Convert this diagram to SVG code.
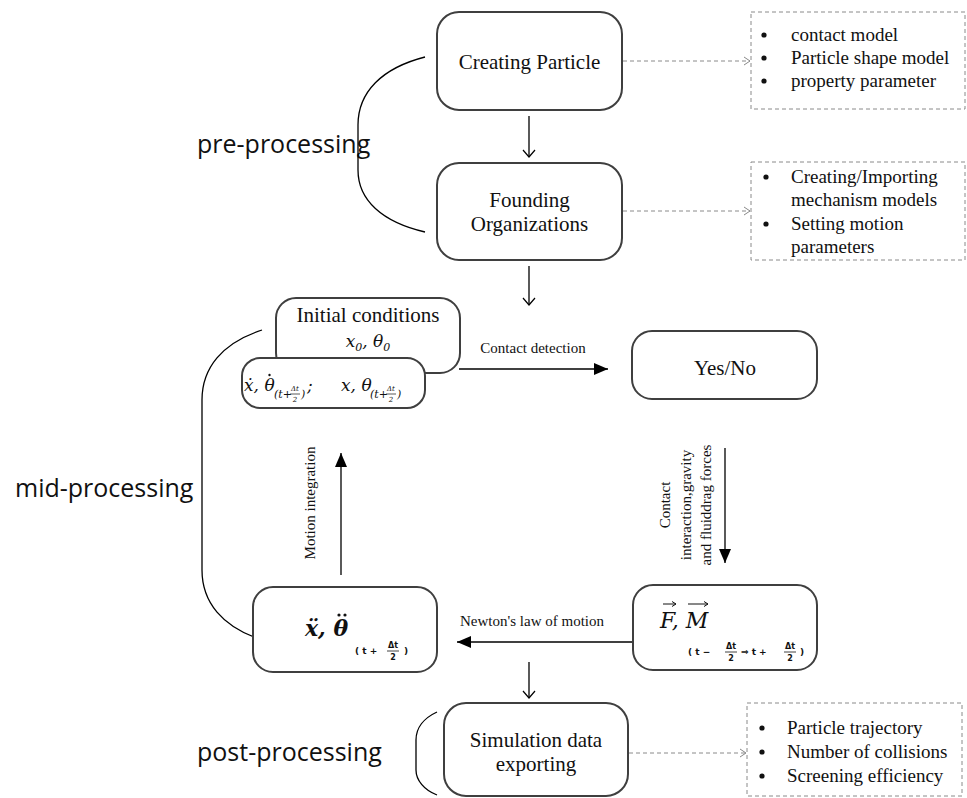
<svg xmlns="http://www.w3.org/2000/svg" width="967" height="798" viewBox="0 0 967 798">
<defs>
<marker id="openV" markerWidth="16" markerHeight="16" refX="8" refY="8" orient="auto" markerUnits="userSpaceOnUse"><path d="M1,2 L8,8 L1,14" fill="none" stroke="#000" stroke-width="1.2"/></marker>
<marker id="dashV" markerWidth="12" markerHeight="12" refX="7" refY="6" orient="auto" markerUnits="userSpaceOnUse"><path d="M1,2 L7,6 L1,10" fill="none" stroke="#888" stroke-width="1"/></marker>
<marker id="tri" markerWidth="16" markerHeight="14" refX="14" refY="7" orient="auto" markerUnits="userSpaceOnUse"><path d="M0,1 L14,7 L0,13 Z" fill="#000"/></marker>
<marker id="vec" markerWidth="8" markerHeight="8" refX="5" refY="4" orient="auto" markerUnits="userSpaceOnUse"><path d="M1,1.5 L5,4 L1,6.5" fill="none" stroke="#111" stroke-width="1"/></marker>
</defs>
<style>
.box{fill:#fff;stroke:#3f3f3f;stroke-width:2}
.dbox{fill:#fff;stroke:#8a8a8a;stroke-width:1;stroke-dasharray:4 3}
.t{font-family:"Liberation Serif","Times New Roman",serif;font-size:21px;fill:#111}
.b{font-family:"Liberation Serif","Times New Roman",serif;font-size:19px;fill:#111}
.s{font-family:"Liberation Serif","Times New Roman",serif;font-size:15px;fill:#111}
.m{font-family:"DejaVu Serif","Liberation Serif",serif;font-style:italic;fill:#111}
.ms{font-family:"DejaVu Sans","Liberation Sans",sans-serif;font-weight:bold;fill:#111}
.lab{font-family:"Open Sans","Noto Sans",sans-serif;font-size:25px;fill:#111}
.ln{stroke:#000;stroke-width:1.3;fill:none}
.dl{stroke:#8a8a8a;stroke-width:1;stroke-dasharray:4 3;fill:none}
.br{stroke:#000;stroke-width:1.3;fill:none}
</style>

<g id="labels">
<text class="lab" x="197" y="153">pre-processing</text>
<text class="lab" x="15" y="497">mid-processing</text>
<text class="lab" x="197" y="761">post-processing</text>
<path class="br" d="M425,57 C382,68 358,92 358,125 L358,170 C358,200 382,222 425,232"/>
<path class="br" d="M262,330 C222,343 202,368 202,400 L202,570 C202,602 222,627 262,640"/>
<path class="br" d="M437,712 C424,718 416,728 416,740 L416,770 C416,780 424,790 437,795"/>
</g>

<g id="connectors">
<line class="ln" x1="529" y1="116" x2="529" y2="157" marker-end="url(#openV)"/>
<line class="ln" x1="529" y1="266" x2="529" y2="305" marker-end="url(#openV)"/>
<line class="ln" x1="529" y1="662" x2="529" y2="698" marker-end="url(#openV)"/>
<line class="dl" x1="623" y1="61" x2="750" y2="61" marker-end="url(#dashV)"/>
<line class="dl" x1="623" y1="211" x2="750" y2="211" marker-end="url(#dashV)"/>
<line class="dl" x1="629" y1="753" x2="746" y2="753" marker-end="url(#dashV)"/>
<line class="ln" x1="459" y1="369" x2="608" y2="369" marker-end="url(#tri)"/>
<text class="s" x="533" y="353" text-anchor="middle">Contact detection</text>
<line class="ln" x1="725" y1="448" x2="725" y2="563" marker-end="url(#tri)"/>
<text class="s" transform="translate(670,505) rotate(-90)" text-anchor="middle">Contact</text>
<text class="s" transform="translate(691,505) rotate(-90)" text-anchor="middle">interaction,gravity</text>
<text class="s" transform="translate(711,505) rotate(-90)" text-anchor="middle">and fluiddrag forces</text>
<line class="ln" x1="632" y1="642" x2="457" y2="642" marker-end="url(#tri)"/>
<text class="s" x="532" y="626" text-anchor="middle">Newton's law of motion</text>
<line class="ln" x1="341" y1="575" x2="341" y2="453" marker-end="url(#tri)"/>
<text class="s" transform="translate(315,503) rotate(-90)" text-anchor="middle">Motion integration</text>
</g>

<g id="creating-particle">
<rect class="box" x="437" y="12" width="185" height="98" rx="22"/>
<text class="t" x="529.5" y="69" text-anchor="middle">Creating Particle</text>
</g>
<g id="founding-organizations">
<rect class="box" x="437" y="163" width="185" height="97" rx="22"/>
<text class="t" x="529.5" y="207" text-anchor="middle">Founding</text>
<text class="t" x="529.5" y="231" text-anchor="middle">Organizations</text>
</g>

<g id="notes-particle">
<rect class="dbox" x="751" y="12" width="214" height="97"/>
<circle cx="764" cy="35" r="2.6" fill="#111"/>
<circle cx="764" cy="58" r="2.6" fill="#111"/>
<circle cx="764" cy="81" r="2.6" fill="#111"/>
<text class="b" x="791" y="41">contact model</text>
<text class="b" x="791" y="64">Particle shape model</text>
<text class="b" x="791" y="87">property parameter</text>
</g>
<g id="notes-organizations">
<rect class="dbox" x="751" y="162" width="214" height="98"/>
<circle cx="766" cy="177" r="2.6" fill="#111"/>
<circle cx="766" cy="224" r="2.6" fill="#111"/>
<text class="b" x="791" y="183">Creating/Importing</text>
<text class="b" x="791" y="206">mechanism models</text>
<text class="b" x="791" y="230">Setting motion</text>
<text class="b" x="791" y="253">parameters</text>
</g>

<g id="initial-conditions">
<rect class="box" x="276" y="298" width="184" height="75" rx="20"/>
<text class="t" x="368" y="322" text-anchor="middle" font-size="20">Initial conditions</text>
<text class="m" x="368" y="347" text-anchor="middle" font-size="17">x<tspan font-size="11" dy="4">0</tspan><tspan dy="-4">, θ</tspan><tspan font-size="11" dy="4">0</tspan></text>
</g>
<g id="velocity-position">
<rect class="box" x="242" y="358" width="183" height="50" rx="18"/>
<text class="m" x="244" y="391" font-size="17">ẋ, θ</text>
<circle cx="269.5" cy="375" r="1.2" fill="#111"/>
<text class="m" x="274" y="398" font-size="11">(t+</text>
<text class="m" x="295" y="391" font-size="7" text-anchor="middle">Δt</text>
<line x1="290" y1="394" x2="300" y2="394" stroke="#111" stroke-width="0.7"/>
<text class="m" x="295" y="402" font-size="7" text-anchor="middle">2</text>
<text class="m" x="301" y="398" font-size="11">)</text>
<text class="m" x="307" y="391" font-size="17">;</text>
<text class="m" x="341" y="391" font-size="17">x, θ</text>
<text class="m" x="370" y="398" font-size="11">(t+</text>
<text class="m" x="391" y="391" font-size="7" text-anchor="middle">Δt</text>
<line x1="386" y1="394" x2="396" y2="394" stroke="#111" stroke-width="0.7"/>
<text class="m" x="391" y="402" font-size="7" text-anchor="middle">2</text>
<text class="m" x="397" y="398" font-size="11">)</text>
</g>

<g id="yes-no">
<rect class="box" x="632" y="331" width="185" height="68" rx="20"/>
<text class="t" x="725" y="375" text-anchor="middle" font-size="20">Yes/No</text>
</g>

<g id="acceleration">
<rect class="box" x="253" y="587" width="184" height="85" rx="20"/>
<text class="m" x="305" y="636" font-size="22" font-weight="bold">ẍ, θ</text>
<circle cx="339" cy="615" r="1.6" fill="#111"/>
<circle cx="345" cy="615" r="1.6" fill="#111"/>
<text class="ms" x="355" y="654" font-size="9">( t +</text>
<text class="ms" x="393" y="648" font-size="8" text-anchor="middle">Δt</text>
<line x1="387" y1="651" x2="399" y2="651" stroke="#111" stroke-width="0.8"/>
<text class="ms" x="393" y="660" font-size="8" text-anchor="middle">2</text>
<text class="ms" x="404" y="654" font-size="9">)</text>
</g>

<g id="force-moment">
<rect class="box" x="633" y="585" width="184" height="85" rx="20"/>
<text class="m" x="660" y="628" font-size="22">F, M</text>
<line x1="663" y1="604" x2="676" y2="604" stroke="#111" stroke-width="1" marker-end="url(#vec)"/>
<line x1="688" y1="604" x2="708" y2="604" stroke="#111" stroke-width="1" marker-end="url(#vec)"/>
<text class="ms" x="688" y="655" font-size="9">( t −</text>
<text class="ms" x="731" y="649" font-size="8" text-anchor="middle">Δt</text>
<line x1="725" y1="652" x2="737" y2="652" stroke="#111" stroke-width="0.8"/>
<text class="ms" x="731" y="661" font-size="8" text-anchor="middle">2</text>
<text class="ms" x="741" y="655" font-size="9">⇒ t +</text>
<text class="ms" x="790" y="649" font-size="8" text-anchor="middle">Δt</text>
<line x1="784" y1="652" x2="796" y2="652" stroke="#111" stroke-width="0.8"/>
<text class="ms" x="790" y="661" font-size="8" text-anchor="middle">2</text>
<text class="ms" x="800" y="655" font-size="9">)</text>
</g>

<g id="simulation-export">
<rect class="box" x="444" y="703" width="184" height="93" rx="22"/>
<text class="t" x="536" y="747" text-anchor="middle">Simulation data</text>
<text class="t" x="536" y="771" text-anchor="middle">exporting</text>
</g>
<g id="notes-export">
<rect class="dbox" x="747" y="703" width="215" height="93"/>
<circle cx="762" cy="728" r="2.6" fill="#111"/>
<circle cx="762" cy="752" r="2.6" fill="#111"/>
<circle cx="762" cy="776" r="2.6" fill="#111"/>
<text class="b" x="787" y="734">Particle trajectory</text>
<text class="b" x="787" y="758">Number of collisions</text>
<text class="b" x="787" y="782">Screening efficiency</text>
</g>
</svg>
